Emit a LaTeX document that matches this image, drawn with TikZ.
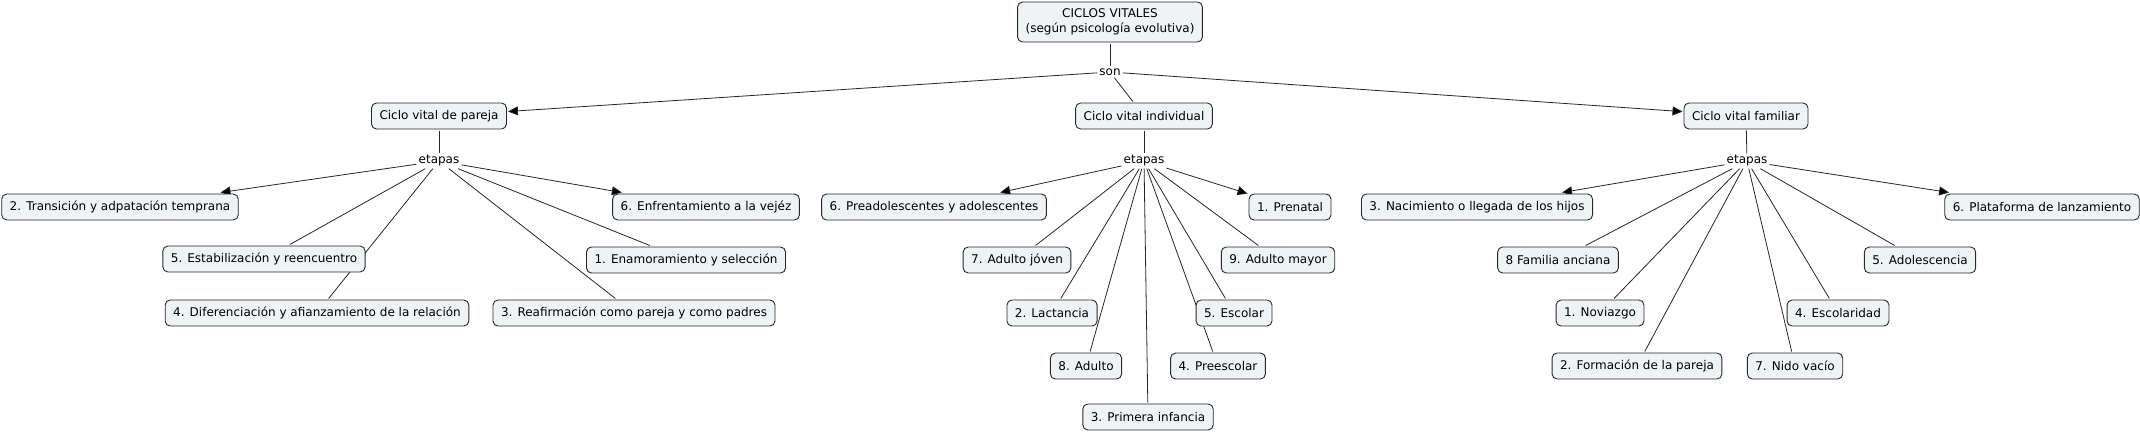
\documentclass[tikz,border=0pt]{standalone}
\usepackage{fontspec}
\setmainfont{DejaVu Sans}
\usetikzlibrary{arrows.meta,backgrounds}

\definecolor{boxfill}{RGB}{238,243,245}
\definecolor{boxline}{RGB}{40,40,40}

\tikzset{
    concept/.style={draw=boxline, fill=boxfill, rounded corners=5pt, line width=0.9pt,
        inner xsep=8pt, inner ysep=0pt, minimum height=26pt, outer sep=1.5pt,
        font=\fontsize{12}{15}\selectfont},
    linkword/.style={inner sep=2pt, font=\fontsize{12}{15}\selectfont},
}

\begin{document}
\begin{tikzpicture}[x=1pt, y=-1pt]
                \useasboundingbox (0,0) rectangle (2140,432);

                \node (root) [concept, align=center, minimum height=40pt] at (1110,22) {CICLOS VITALES\\(según psicología evolutiva)};
                \node (son) [linkword] at (1110,72) {son};

                \node (pareja) [concept] at (439,116) {Ciclo vital de pareja};
                \node (indiv) [concept] at (1144,116) {Ciclo vital individual};
                \node (famil) [concept] at (1746,116) {Ciclo vital familiar};

                \node (etp) [linkword] at (439,161) {etapas};
                \node (eti) [linkword] at (1144,161) {etapas};
                \node (etf) [linkword] at (1747,161) {etapas};

                % pareja
                \node (p2) [concept] at (120,207) {2. Transición y adpatación temprana};
                \node (p6) [concept] at (706,207) {6. Enfrentamiento a la vejéz};
                \node (p5) [concept] at (264,259) {5. Estabilización y reencuentro};
                \node (p1) [concept] at (686,260) {1. Enamoramiento y selección};
                \node (p4) [concept] at (317,313) {4. Diferenciación y afianzamiento de la relación};
                \node (p3) [concept] at (634,313) {3. Reafirmación como pareja y como padres};

                % individual
                \node (i6) [concept] at (934,207) {6. Preadolescentes y adolescentes};
                \node (i1) [concept] at (1290,207) {1. Prenatal};
                \node (i7) [concept] at (1017,260) {7. Adulto jóven};
                \node (i9) [concept] at (1278,260) {9. Adulto mayor};
                \node (i2) [concept] at (1052,313) {2. Lactancia};
                \node (i5) [concept] at (1234,313) {5. Escolar};
                \node (i8) [concept] at (1086,366) {8. Adulto};
                \node (i4) [concept] at (1218,366) {4. Preescolar};
                \node (i3) [concept] at (1148,417) {3. Primera infancia};

                % familiar
                \node (f3) [concept] at (1477,207) {3. Nacimiento o llegada de los hijos};
                \node (f6) [concept] at (2042,207) {6. Plataforma de lanzamiento};
                \node (f8) [concept] at (1558,260) {8 Familia anciana};
                \node (f5) [concept] at (1920,260) {5. Adolescencia};
                \node (f1) [concept] at (1600,313) {1. Noviazgo};
                \node (f4) [concept] at (1838,313) {4. Escolaridad};
                \node (f2) [concept] at (1637,366) {2. Formación de la pareja};
                \node (f7) [concept] at (1795,366) {7. Nido vacío};

                \begin{scope}[on background layer]
                \path [line width=0.8pt, draw=black!85]
                    (root) edge (son)
                    (son) edge (indiv)
                    (pareja) edge (etp)
                    (indiv) edge (eti)
                    (famil) edge (etf)
                    (etp) edge (p5) edge (p1) edge (p4) edge (p3)
                    (eti) edge (i7) edge (i9) edge (i2) edge (i5) edge (i8) edge (i4) edge (i3)
                    (etf) edge (f8) edge (f5) edge (f1) edge (f4) edge (f2) edge (f7);

                \path [-{Triangle[length=10pt,width=9pt]}, line width=0.8pt, draw=black!85]
                    (son) edge (pareja)
                    (son) edge (famil)
                    (etp) edge (p2) edge (p6)
                    (eti) edge (i6) edge (i1)
                    (etf) edge (f3) edge (f6);
                \end{scope}
            \end{tikzpicture}
\end{document}
